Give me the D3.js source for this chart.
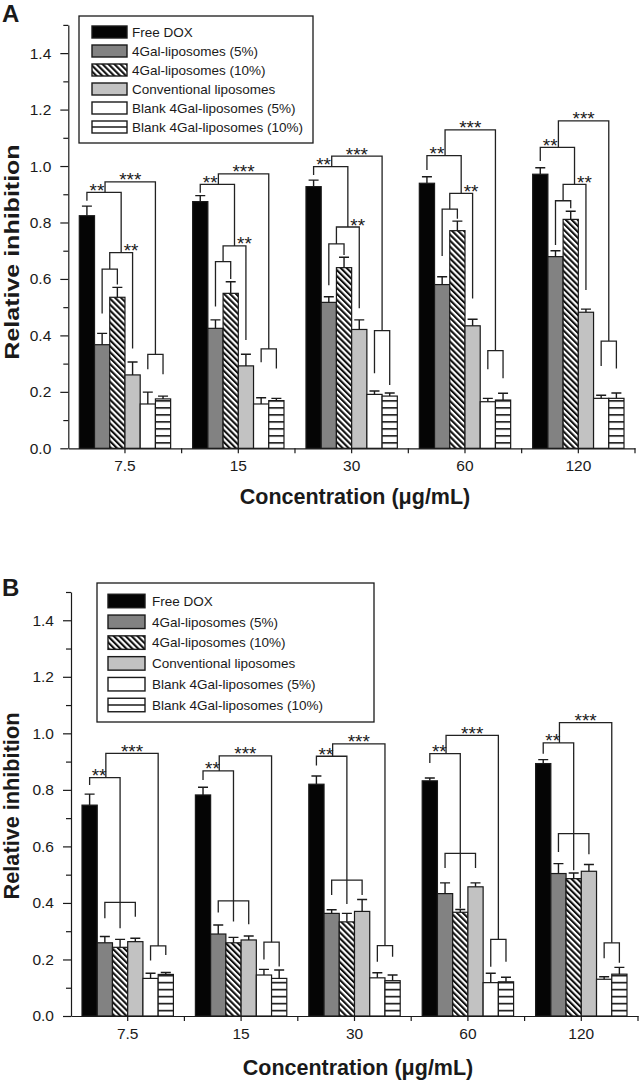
<!DOCTYPE html>
<html><head><meta charset="utf-8">
<script src="https://cdn.jsdelivr.net/npm/d3@7"></script>
<style>
body{margin:0;background:#fff}
svg{display:block}
text{font-family:"Liberation Sans",Arial,sans-serif;fill:#1a1a1a}
</style>
</head><body>
<svg id="chart" width="639" height="1080"></svg>
<script>
// ---------- data ----------
const concentrations = ["7.5", "15", "30", "60", "120"];
const seriesNames = ["Free DOX", "4Gal-liposomes (5%)", "4Gal-liposomes (10%)",
  "Conventional liposomes", "Blank 4Gal-liposomes (5%)", "Blank 4Gal-liposomes (10%)"];
const majorTicks = [0, 0.2, 0.4, 0.6, 0.8, 1.0, 1.2, 1.4];
const minorTicks = [0.1, 0.3, 0.5, 0.7, 0.9, 1.1, 1.3, 1.5];

// Panel A: rows = series, columns = concentrations
const meanA = [
  [0.824, 0.874, 0.927, 0.939, 0.971],
  [0.367, 0.425, 0.517, 0.580, 0.679],
  [0.535, 0.549, 0.640, 0.771, 0.811],
  [0.260, 0.292, 0.421, 0.434, 0.482],
  [0.157, 0.157, 0.191, 0.165, 0.177],
  [0.175, 0.169, 0.185, 0.171, 0.177]
];
const errA = [
  [0.034, 0.021, 0.023, 0.023, 0.023],
  [0.040, 0.030, 0.020, 0.028, 0.021],
  [0.035, 0.041, 0.037, 0.034, 0.029],
  [0.046, 0.041, 0.034, 0.023, 0.011],
  [0.042, 0.022, 0.012, 0.012, 0.011],
  [0.010, 0.008, 0.011, 0.024, 0.019]
];
// Panel A significance bracket levels (in inhibition units)
const aTripleY   = [0.944, 0.972, 1.035, 1.128, 1.160];
const aTopY      = [0.907, 0.935, 0.998, 1.037, 1.066];
const aTopLeg    = [0.877, 0.905, 0.968, 0.986, 1.018];
const aMidY      = [0.693, 0.717, 0.784, 0.903, 0.935];
const aMidLeg    = [0.354, 0.384, 0.496, 0.531, 0.561];
const aPairY     = [0.635, 0.661, 0.724, 0.847, 0.877];
const aPairLegL  = [0.478, 0.502, 0.578, 0.681, 0.720];
const aPairLegR  = [0.580, 0.600, 0.685, 0.813, 0.850];
const aBlankY    = [0.333, 0.352, 0.417, 0.346, 0.380];
const aBlankLegL = [0.280, 0.305, 0.266, 0.280, 0.292];
const aBlankLegR = [0.262, 0.283, 0.224, 0.248, 0.283];

// Panel B
const meanB = [
  [0.746, 0.782, 0.820, 0.832, 0.893],
  [0.259, 0.290, 0.363, 0.433, 0.504],
  [0.243, 0.259, 0.333, 0.367, 0.486],
  [0.263, 0.269, 0.370, 0.457, 0.512],
  [0.133, 0.145, 0.135, 0.118, 0.130],
  [0.147, 0.133, 0.125, 0.121, 0.148]
];
const errB = [
  [0.039, 0.027, 0.029, 0.010, 0.014],
  [0.022, 0.032, 0.013, 0.038, 0.035],
  [0.028, 0.019, 0.030, 0.010, 0.020],
  [0.012, 0.014, 0.042, 0.014, 0.024],
  [0.018, 0.020, 0.018, 0.033, 0.009],
  [0.007, 0.030, 0.020, 0.016, 0.024]
];
const bTripleY    = [0.929, 0.920, 0.963, 0.993, 1.038];
const bTopY       = [0.843, 0.867, 0.919, 0.928, 0.966];
const bTopLeg     = [0.817, 0.835, 0.886, 0.895, 0.928];
const bGroupY     = [0.402, 0.407, 0.481, 0.575, 0.645];
const bGroupLegL  = [0.346, 0.366, 0.428, 0.524, 0.580];
const bGroupLegR  = [0.351, 0.325, 0.428, 0.524, 0.572];
const bGroupLegM  = [0.310, 0.334, 0.396, 0.380, 0.516];
const bBlankY     = [0.248, 0.261, 0.249, 0.271, 0.259];
const bBlankLegL  = [0.196, 0.200, 0.192, 0.174, 0.204];
const bBlankLegR  = [0.216, 0.175, 0.210, 0.192, 0.188];

// ---------- drawing ----------
const svg = d3.select("#chart");
const defs = svg.append("defs");
const INK = "#1a1a1a";

function makePatterns(id, baseY) {
  const h = defs.append("pattern").attr("id", "hatch" + id)
    .attr("patternUnits", "userSpaceOnUse").attr("width", 4.2).attr("height", 4.2)
    .attr("patternTransform", "rotate(-45)");
  h.append("rect").attr("width", 4.2).attr("height", 4.2).attr("fill", "#fff");
  h.append("rect").attr("width", 2.1).attr("height", 4.2).attr("fill", "#111");
  const l = defs.append("pattern").attr("id", "lines" + id)
    .attr("patternUnits", "userSpaceOnUse").attr("width", 10).attr("height", 7)
    .attr("y", baseY + 0.8);
  l.append("rect").attr("width", 10).attr("height", 7).attr("fill", "#fff");
  l.append("rect").attr("y", 0).attr("width", 10).attr("height", 1.6).attr("fill", "#111");
}

function fills(id) {
  return ["#050505", "#828282", `url(#hatch${id})`, "#c2c2c2", "#ffffff", `url(#lines${id})`];
}

function drawPanel(cfg) {
  const g = svg.append("g");
  makePatterns(cfg.id, cfg.y0);
  const fill = fills(cfg.id);
  const y = d3.scaleLinear().domain([0, 1.5]).range([cfg.y0, cfg.yTop]);
  const x0 = d3.scaleBand().domain(concentrations).range([cfg.xL, cfg.xR]);
  const x1 = d3.scaleBand().domain(d3.range(seriesNames.length))
    .range([11, x0.bandwidth() - 11]);
  const cx = (ci, s) => x0(concentrations[ci]) + x1(s) + x1.bandwidth() / 2;

  // bars
  seriesNames.forEach((name, s) => {
    const rows = concentrations.map((c, ci) => ({c, ci, v: cfg.mean[s][ci], e: cfg.err[s][ci]}));
    g.selectAll(null).data(rows).join("rect")
      .attr("x", d => x0(d.c) + x1(s)).attr("width", x1.bandwidth())
      .attr("y", d => y(d.v)).attr("height", d => y(0) - y(d.v))
      .attr("fill", fill[s]).attr("stroke", INK).attr("stroke-width", 1.2);
    // error bars (upper only)
    g.selectAll(null).data(rows).join("path")
      .attr("d", d => {
        const x = cx(d.ci, s), yt = y(d.v), ye = y(d.v + d.e);
        return `M${x},${yt}V${ye}M${x - 5},${ye}H${x + 5}`;
      })
      .attr("fill", "none").attr("stroke", INK).attr("stroke-width", 1.4);
  });

  // axes
  const yAxis = d3.axisLeft(y).tickValues(majorTicks).tickFormat(d3.format(".1f"))
    .tickSize(8).tickSizeOuter(0).tickPadding(9);
  const ya = g.append("g").attr("transform", `translate(${cfg.xL},0)`).call(yAxis);
  ya.selectAll("text").attr("font-size", 15.5).attr("font-family", "Liberation Sans, Arial, sans-serif").attr("fill", INK);
  ya.selectAll("line,path").attr("stroke", INK).attr("stroke-width", 1.2);
  const yMinor = d3.axisLeft(y).tickValues(minorTicks).tickFormat("").tickSize(5).tickSizeOuter(0);
  const ym = g.append("g").attr("transform", `translate(${cfg.xL},0)`).call(yMinor);
  ym.select(".domain").remove();
  ym.selectAll("line").attr("stroke", INK).attr("stroke-width", 1.2);

  const xAxis = d3.axisBottom(x0).tickSize(5).tickSizeOuter(0).tickPadding(7);
  const xa = g.append("g").attr("transform", `translate(0,${cfg.y0})`).call(xAxis);
  xa.selectAll("text").attr("font-size", 15.5).attr("font-family", "Liberation Sans, Arial, sans-serif").attr("fill", INK);
  xa.selectAll("line,path").attr("stroke", INK).attr("stroke-width", 1.2);
  const bounds = concentrations.slice(1).map(c => x0(c)).concat([cfg.xR]);
  xa.selectAll(".bnd").data(bounds).join("line").attr("class", "bnd")
    .attr("x1", d => d).attr("x2", d => d).attr("y1", 0).attr("y2", 5)
    .attr("stroke", INK).attr("stroke-width", 1.2);

  // titles
  g.append("text")
    .attr("transform", `translate(${cfg.ytX},${cfg.ytY}) scale(${cfg.ytScale},1) rotate(-90)`)
    .attr("text-anchor", "middle").attr("font-weight", "bold").attr("font-size", cfg.ytSize)
    .text("Relative inhibition");
  g.append("text").attr("x", cfg.xtX).attr("y", cfg.xtY)
    .attr("text-anchor", "middle").attr("font-weight", "bold").attr("font-size", 21.5)
    .text("Concentration (\u03bcg/mL)");
  g.append("text").attr("x", 2).attr("y", cfg.letterY).attr("font-weight", "bold")
    .attr("font-size", 24).text(cfg.letter);

  // legend
  const L = cfg.legend;
  g.append("rect").attr("x", L.x).attr("y", L.y).attr("width", L.w).attr("height", L.h)
    .attr("fill", "#fff").attr("stroke", INK).attr("stroke-width", 1.3);
  const li = g.selectAll(null).data(seriesNames).join("g")
    .attr("transform", (d, i) => `translate(0,${L.row0 + i * L.step})`);
  li.append("rect").attr("x", L.sx).attr("y", -L.sh / 2).attr("width", L.sw).attr("height", L.sh)
    .attr("fill", (d, i) => i === 5 ? "#fff" : fill[i]).attr("stroke", INK).attr("stroke-width", 1.4);
  li.filter((d, i) => i === 5).append("line").attr("x1", L.sx).attr("x2", L.sx + L.sw)
    .attr("y1", 0).attr("y2", 0).attr("stroke", INK).attr("stroke-width", 1.6);
  li.append("text").attr("x", L.tx).attr("y", 4.8).attr("font-size", 13.5).text(d => d);

  // significance brackets
  const br = g.append("g").attr("fill", "none").attr("stroke", "#222").attr("stroke-width", 1.3);
  const star = (x, yy, t) => g.append("text").attr("x", x).attr("y", y(yy) + 4.5)
    .attr("text-anchor", "middle").attr("font-size", 19).text(t);
  cfg.brackets(br, y, cx, star);
}

drawPanel({
  id: "A", letter: "A", letterY: 22,
  xL: 68.3, xR: 635, y0: 448.3, yTop: 24.9,
  mean: meanA, err: errA,
  ytX: 18.5, ytY: 252, ytSize: 25, ytScale: 0.82, xtX: 355, xtY: 504,
  legend: {x: 79, y: 16, w: 234, h: 127, row0: 32, step: 19, sx: 92, sw: 35, sh: 12, tx: 132},
  brackets: (br, y, cx, star) => {
    concentrations.forEach((c, i) => {
      const c0 = cx(i, 0), c1 = cx(i, 1), c2 = cx(i, 2), c3 = cx(i, 3), c4 = cx(i, 4), c5 = cx(i, 5);
      const pairMid = (c1 + c2) / 2, midMid = (pairMid + c3) / 2;
      const topMid = (c0 + midMid) / 2 + 1, blankMid = (c4 + c5) / 2;
      br.append("path").attr("d", `M${c1},${y(aPairLegL[i])}V${y(aPairY[i])}H${c2}V${y(aPairLegR[i])}`);
      br.append("path").attr("d", `M${pairMid},${y(aPairY[i])}V${y(aMidY[i])}H${c3}V${y(aMidLeg[i])}`);
      br.append("path").attr("d", `M${c0},${y(aTopLeg[i])}V${y(aTopY[i])}H${midMid}V${y(aMidY[i])}`);
      br.append("path").attr("d", `M${c4},${y(aBlankLegL[i])}V${y(aBlankY[i])}H${c5}V${y(aBlankLegR[i])}`);
      br.append("path").attr("d", `M${topMid},${y(aTopY[i])}V${y(aTripleY[i])}H${blankMid}V${y(aBlankY[i])}`);
      star(c3 - 1.5, aMidY[i], "**");
      star(c0 + 10, aTopY[i], "**");
      star((topMid + blankMid) / 2, aTripleY[i], "***");
    });
  }
});

drawPanel({
  id: "B", letter: "B", letterY: 596,
  xL: 71, xR: 638, y0: 1016, yTop: 592,
  mean: meanB, err: errB,
  ytX: 18.5, ytY: 806, ytSize: 21.7, ytScale: 1, xtX: 358, xtY: 1075,
  legend: {x: 97, y: 583, w: 277, h: 139, row0: 601, step: 20.8, sx: 108, sw: 37, sh: 13.5, tx: 152},
  brackets: (br, y, cx, star) => {
    concentrations.forEach((c, i) => {
      const c0 = cx(i, 0), c1 = cx(i, 1), c2 = cx(i, 2), c3 = cx(i, 3), c4 = cx(i, 4), c5 = cx(i, 5);
      const topMid = (c0 + c2) / 2 + 1, blankMid = (c4 + c5) / 2;
      br.append("path").attr("d", `M${c1},${y(bGroupLegL[i])}V${y(bGroupY[i])}H${c3}V${y(bGroupLegR[i])}`);
      br.append("path").attr("d", `M${c0},${y(bTopLeg[i])}V${y(bTopY[i])}H${c2}V${y(bGroupLegM[i])}`);
      br.append("path").attr("d", `M${c4},${y(bBlankLegL[i])}V${y(bBlankY[i])}H${c5}V${y(bBlankLegR[i])}`);
      br.append("path").attr("d", `M${topMid},${y(bTopY[i])}V${y(bTripleY[i])}H${blankMid}V${y(bBlankY[i])}`);
      star(c0 + 9.5, bTopY[i], "**");
      star((topMid + blankMid) / 2, bTripleY[i], "***");
    });
  }
});
</script>
</body></html>
